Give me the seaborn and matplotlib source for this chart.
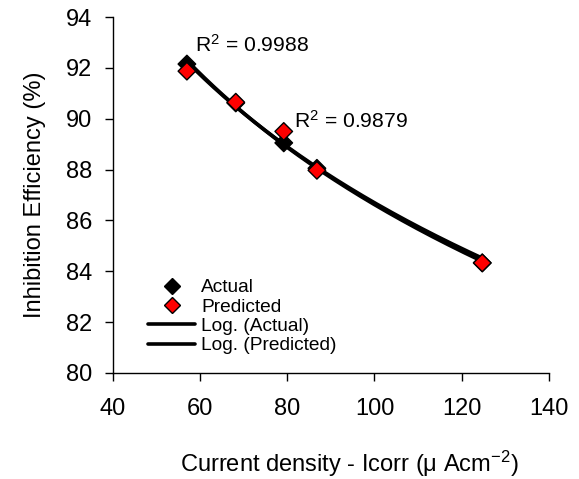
import numpy as np
import pandas as pd
import matplotlib
matplotlib.use("Agg")
import matplotlib.pyplot as plt
import seaborn as sns
from matplotlib.lines import Line2D

# ---- data ----
current_density = [57.0, 68.2, 79.2, 86.8, 124.7]
ie_actual = [92.15, 90.62, 89.05, 88.05, 84.33]
ie_predicted = [91.87, 90.65, 89.50, 87.97, 84.33]
r2_labels = ["R$^{2}$ = 0.9988", "R$^{2}$ = 0.9879"]
r2_pos_x = [58.8, 81.6]
r2_pos_y = [92.62, 89.66]
x_ticks = [40, 60, 80, 100, 120, 140]
y_ticks = [80, 82, 84, 86, 88, 90, 92, 94]
series_names = ["Actual", "Predicted"]
fit_names = ["Log. (Actual)", "Log. (Predicted)"]

sns.set_style("white")
plt.rcParams["font.family"] = ["Liberation Sans", "DejaVu Sans"]
plt.rcParams["mathtext.fontset"] = "custom"
plt.rcParams["mathtext.rm"] = "Liberation Sans"
plt.rcParams["mathtext.it"] = "Liberation Sans:italic"
plt.rcParams["text.color"] = "black"
plt.rcParams["axes.labelcolor"] = "black"
plt.rcParams["xtick.color"] = "black"
plt.rcParams["ytick.color"] = "black"

fig = plt.figure(figsize=(5.79, 4.79), dpi=100)
ax = fig.add_axes([0.1947, 0.2213, 0.7535, 0.7432])

df = pd.DataFrame({
    "x": current_density * 2,
    "y": ie_actual + ie_predicted,
    "series": [series_names[0]] * len(current_density) + [series_names[1]] * len(current_density),
})

# log trendlines
xs = np.linspace(min(current_density), max(current_density), 200)
fits = []
for name, ys in zip(fit_names, [ie_actual, ie_predicted]):
    a, b = np.polyfit(np.log(current_density), ys, 1)
    fits.append(pd.DataFrame({"x": xs, "y": a * np.log(xs) + b, "fit": name}))
fit_df = pd.concat(fits)
sns.lineplot(data=fit_df, x="x", y="y", hue="fit", palette=["black", "black"],
             linewidth=2.6, ax=ax, legend=False, zorder=2)

sns.scatterplot(data=df, x="x", y="y", hue="series", palette=["black", "#ff0000"],
                marker="D", s=80, edgecolor="black", linewidth=1.0, ax=ax,
                legend=False, zorder=3)

for lab, tx, ty in zip(r2_labels, r2_pos_x, r2_pos_y):
    ax.text(tx, ty, lab, fontsize=15.2, va="baseline", ha="left")

ax.set_xlim(40, 140)
ax.set_ylim(80, 94)
ax.set_xticks(x_ticks)
ax.set_yticks(y_ticks)
ax.tick_params(axis="both", labelsize=17, length=6, width=1, direction="out",
               color="black", labelcolor="black", bottom=True, left=True)
ax.tick_params(axis="x", pad=12)
ax.tick_params(axis="y", pad=9)
for s in ["top", "right"]:
    ax.spines[s].set_visible(False)
for s in ["left", "bottom"]:
    ax.spines[s].set_color("black")
    ax.spines[s].set_linewidth(1.0)

ax.set_xlabel("Current density - Icorr (\u03bc Acm$^{-2}$)", fontsize=17)
ax.xaxis.set_label_coords(0.5416, -0.213)
ax.set_ylabel("Inhibition Efficiency (%)", fontsize=17, labelpad=14)

handles = [
    Line2D([], [], linestyle="none", marker="D", markersize=8, markerfacecolor="black",
           markeredgecolor="black"),
    Line2D([], [], linestyle="none", marker="D", markersize=8, markerfacecolor="#ff0000",
           markeredgecolor="black"),
    Line2D([], [], color="black", linewidth=2.6),
    Line2D([], [], color="black", linewidth=2.6),
]
ax.legend(handles, series_names + fit_names, loc="upper left",
          bbox_to_anchor=(0.081, 0.264), frameon=False, fontsize=13.8,
          handlelength=2.45, handletextpad=0.31, labelspacing=0.1,
          borderpad=0, borderaxespad=0)

fig.savefig("out.png", dpi=100)
